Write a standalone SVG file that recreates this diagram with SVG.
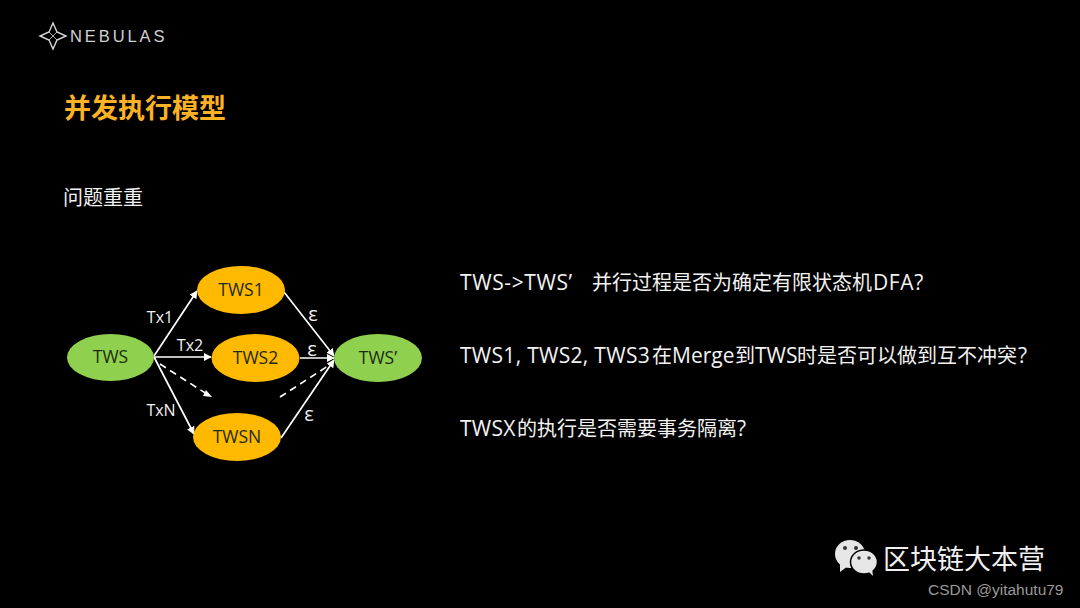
<svg xmlns="http://www.w3.org/2000/svg" width="1080" height="608" viewBox="0 0 1080 608">
<defs>
<marker id="ah" viewBox="0 0 10 10" refX="9" refY="5" markerWidth="8" markerHeight="8" markerUnits="userSpaceOnUse" orient="auto"><path d="M0 0L10 5L0 10Z" fill="#fff"/></marker>
</defs>
<style>
text{font-family:"Open Sans","Noto Sans CJK SC",sans-serif}
.cjk{fill:#f2f2f2;font-size:20px}
.la{font-size:21px}
.n{font-size:17.5px;fill:#1c2a10;text-anchor:middle}
.lb{font-size:16px;fill:#f2f2f2;text-anchor:middle}
.e{font-size:20px;fill:#f2f2f2;text-anchor:middle}
.c{stroke:#fff;stroke-width:1.7;fill:none;marker-end:url(#ah)}
.d{stroke:#fff;stroke-width:1.7;fill:none;stroke-dasharray:7 5}
.g{fill:#8fd14f}.y{fill:#ffba00}
</style>
<rect width="1080" height="608" fill="#000"/>
<g id="logo">
<path d="M53 23L57 32L66 36L57 40L53 49L49 40L40 36L49 32Z" fill="none" stroke="#d8d8d8" stroke-width="1.4"/>
<path d="M49 40L57 32M49 32L53 36L57 40" fill="none" stroke="#d8d8d8" stroke-width="0.8"/>
<text x="70" y="42" font-size="16.500" letter-spacing="2.900" fill="#d0d0d0" style="font-family:'Liberation Sans',sans-serif">NEBULAS</text>
</g>
<text x="64" y="118" font-size="27" font-weight="700" fill="#fbb225" style="font-family:'Noto Sans CJK SC',sans-serif">并发执行模型</text>
<text x="63" y="205" class="cjk">问题重重</text>
<g id="connectors">
<path class="c" d="M154 356L197 291"/>
<path class="c" d="M154 357L211 357"/>
<path class="c" d="M154 357L194 434"/>
<path class="d" d="M160 364L210 396"/>
<path d="M206 390L212 397L203 396Z" fill="#fff"/>
<path class="c" d="M284 292L334 356"/>
<path class="c" d="M300 358L334 358"/>
<path class="c" d="M281 438L334 360"/>
<path class="d" d="M280 397L331 364"/>
</g>
<g id="node-tws"><ellipse class="g" cx="110.500" cy="357.500" rx="43.500" ry="23.500"/><text class="n" x="110.500" y="363">TWS</text></g>
<g id="node-tws1"><ellipse class="y" cx="241" cy="290" rx="44" ry="24"/><text class="n" x="241" y="296">TWS1</text></g>
<g id="node-tws2"><ellipse class="y" cx="255.500" cy="358" rx="44" ry="24"/><text class="n" x="255.500" y="364">TWS2</text></g>
<g id="node-twsn"><ellipse class="y" cx="237" cy="437" rx="44" ry="24"/><text class="n" x="237" y="443">TWSN</text></g>
<g id="node-tws-prime"><ellipse class="g" cx="378" cy="358" rx="44" ry="24"/><text class="n" x="378" y="364">TWS’</text></g>
<g id="edge-labels">
<text class="lb" x="160" y="323">Tx1</text>
<text class="lb" x="190" y="351">Tx2</text>
<text class="lb" x="161" y="416">TxN</text>
<text class="e" x="313" y="321">ε</text>
<text class="e" x="312" y="356">ε</text>
<text class="e" x="309" y="421">ε</text>
</g>
<text x="460" y="290" class="cjk"><tspan class="la" letter-spacing="0.600">TWS-&gt;TWS’</tspan><tspan x="592">并行过程是否为确定有限状态机</tspan><tspan class="la" x="873" letter-spacing="0.600">DFA?</tspan></text>
<text x="460" y="363" class="cjk"><tspan class="la" letter-spacing="0.300">TWS1, TWS2, TWS3</tspan><tspan x="652">在</tspan><tspan class="la" x="672">Merge</tspan><tspan x="735">到</tspan><tspan class="la" x="755">TWS</tspan><tspan x="797">时是否可以做到互不冲突</tspan><tspan class="la" x="1018">?</tspan></text>
<text x="460" y="436" class="cjk"><tspan class="la" letter-spacing="0.300">TWSX</tspan><tspan x="517">的执行是否需要事务隔离</tspan><tspan class="la">?</tspan></text>
<g id="watermark">
<ellipse cx="850" cy="554" rx="15" ry="14" fill="#e6e6e6"/>
<path d="M840 563L840 572L848 566Z" fill="#e6e6e6"/>
<ellipse cx="864" cy="562" rx="13.500" ry="12" fill="#e6e6e6" stroke="#000" stroke-width="1.500"/>
<path d="M868 571L873 576L872 568Z" fill="#e6e6e6"/>
<circle cx="845" cy="548" r="2" fill="#333"/><circle cx="856" cy="548" r="2" fill="#333"/>
<circle cx="859" cy="558" r="1.700" fill="#333"/><circle cx="869" cy="558" r="1.700" fill="#333"/>
<text x="883" y="569" font-size="27" fill="#f0f0f0" style="font-family:'Noto Sans CJK SC',sans-serif">区块链大本营</text>
<text x="928" y="595" font-size="15.500" fill="#9a9a9a" style="font-family:'Liberation Sans',sans-serif">CSDN @yitahutu79</text>
</g>
</svg>
